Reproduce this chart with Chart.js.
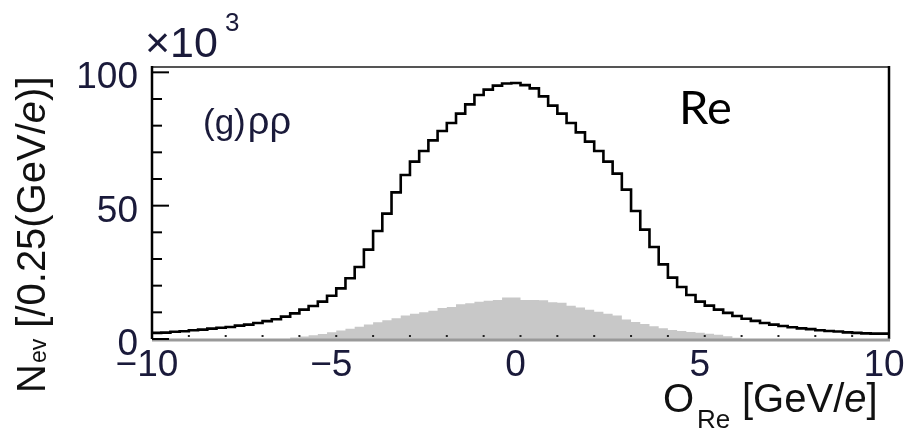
<!DOCTYPE html>
<html>
<head>
<meta charset="utf-8">
<script src="https://cdn.jsdelivr.net/npm/chart.js@4.4.1/dist/chart.umd.min.js"></script>
<style>
  html, body { margin: 0; padding: 0; background: #fff; }
  #wrap { width: 904px; height: 430px; }
</style>
</head>
<body>
<div id="wrap"><canvas id="histChart" width="904" height="430"></canvas></div>
<script>
// histogram binning: 80 bins of 0.25 GeV/e from -10 to 10
const binLow = -10;
const binWidth = 0.25;

// black histogram (x10^3 events per bin), left to right
const totalCounts = [
  2.1, 2.3, 2.4, 2.7, 2.9, 3.3, 3.5, 3.9, 4.2, 4.5,
  5.0, 5.4, 6.0, 6.7, 7.4, 8.4, 9.6, 11.0, 12.4, 14.0,
  16.2, 19.0, 22.8, 27.0, 33.5, 40.5, 47.0, 55.0, 61.5, 66.5,
  70.5, 74.5, 78.0, 81.0, 84.5, 88.0, 91.5, 93.5, 95.0, 95.8,
  96.0, 95.2, 94.0, 91.0, 87.5, 84.5, 81.0, 77.5, 74.0, 70.5,
  66.5, 62.0, 56.0, 48.0, 41.0, 34.5, 28.0, 23.0, 19.5, 16.5,
  14.0, 12.5, 11.0, 9.8, 8.6, 7.6, 6.8, 6.0, 5.4, 4.9,
  4.4, 4.0, 3.7, 3.3, 3.0, 2.8, 2.5, 2.3, 2.1, 2.0
];

// gray filled histogram (x10^3 events per bin)
const bkgCounts = [
  0, 0, 0, 0, 0, 0, 0, 0, 0, 0,
  0, 0, 0, 0, 0, 0, 0.6, 0.9, 1.4, 1.9,
  2.5, 3.2, 3.8, 4.6, 5.4, 6.3, 7.0, 7.8, 8.8, 9.5,
  10.0, 10.6, 11.6, 12.0, 13.0, 13.4, 14.0, 14.3, 14.6, 15.6,
  15.6, 14.6, 14.6, 14.5, 13.8, 13.6, 12.5, 11.8, 11.0, 10.2,
  9.5, 8.8, 7.3, 6.4, 5.6, 4.8, 4.0, 3.4, 3.0, 2.6,
  2.3, 2.0, 1.6, 1.0, 0.5, 0, 0, 0, 0, 0,
  0, 0, 0, 0, 0, 0, 0, 0, 0, 0
];

const xTicks = [-10, -5, 0, 5, 10];
const yTicks = [0, 50, 100];
const yMinorStep = 10;
const xMinorStep = 1;

// step points on bin edges, last bin closed at the upper edge
function toSteps(counts) {
  const pts = counts.map((v, i) => ({ x: binLow + i * binWidth, y: v }));
  pts.push({ x: binLow + counts.length * binWidth, y: counts[counts.length - 1] });
  return pts;
}

const numColor = '#1a1a3a';
const sans = '"Liberation Sans", Arial, sans-serif';

// cadre ROOT : axes, graduations et textes
const rootFrame = {
  id: 'rootFrame',
  afterDatasetsDraw(chart) {
    const ctx = chart.ctx;
    const a = chart.chartArea;
    const xs = chart.scales.x;
    const ys = chart.scales.y;
    ctx.save();

    // frame
    ctx.lineCap = 'butt';
    ctx.strokeStyle = '#555';
    ctx.lineWidth = 2;
    ctx.beginPath(); ctx.moveTo(a.left, a.top); ctx.lineTo(a.right, a.top); ctx.stroke();
    ctx.strokeStyle = '#000';
    ctx.lineWidth = 2.5;
    ctx.beginPath(); ctx.moveTo(a.right, a.top - 1); ctx.lineTo(a.right, a.bottom); ctx.stroke();
    ctx.beginPath(); ctx.moveTo(a.left, a.top - 1); ctx.lineTo(a.left, a.bottom); ctx.stroke();
    ctx.strokeStyle = '#999';
    ctx.lineWidth = 3;
    ctx.beginPath(); ctx.moveTo(a.left, a.bottom + 1); ctx.lineTo(a.right + 1, a.bottom + 1); ctx.stroke();

    // y ticks (inside)
    ctx.strokeStyle = '#000';
    ctx.lineWidth = 2;
    for (let v = 0; v <= 100; v += yMinorStep) {
      const py = ys.getPixelForValue(v);
      const len = yTicks.includes(v) ? 17 : 10;
      ctx.beginPath(); ctx.moveTo(a.left, py); ctx.lineTo(a.left + len, py); ctx.stroke();
    }
    // x ticks: tiny dots
    ctx.fillStyle = '#222';
    for (let v = -9; v <= 9; v += xMinorStep) {
      const px = xs.getPixelForValue(v);
      ctx.fillRect(px - 1, a.bottom - 4, 2, 2);
    }

    // y tick labels
    ctx.fillStyle = numColor;
    ctx.font = '37px ' + sans;
    ctx.textAlign = 'right';
    ctx.textBaseline = 'alphabetic';
    yTicks.forEach(v => {
      ctx.fillText(String(v), a.left - 14, ys.getPixelForValue(v) + 16);
    });
    // x tick labels
    ctx.textAlign = 'center';
    xTicks.forEach(v => {
      const txt = v < 0 ? '\u2212' + Math.abs(v) : String(v);
      ctx.fillText(txt, xs.getPixelForValue(v) - 5, a.bottom + 37);
    });

    // exponent x10^3
    ctx.textAlign = 'left';
    ctx.font = '43px ' + sans;
    ctx.fillText('\u00d710', 145, 57);
    ctx.font = '26px ' + sans;
    ctx.fillText('3', 225, 31);

    // x title
    ctx.fillStyle = '#111';
    ctx.font = '40px ' + sans;
    ctx.fillText('O', 663, 412);
    ctx.font = '26px ' + sans;
    ctx.fillText('Re', 697, 428);
    let x = 742;
    ctx.font = '40px ' + sans;
    ctx.fillText('[GeV/', x, 412);
    x += ctx.measureText('[GeV/').width;
    ctx.font = 'italic 40px ' + sans;
    ctx.fillText('e', x, 412);
    x += ctx.measureText('e').width;
    ctx.font = '40px ' + sans;
    ctx.fillText(']', x, 412);

    // y title, rotated
    ctx.save();
    ctx.translate(45, 393);
    ctx.rotate(-Math.PI / 2);
    let t = 0;
    ctx.font = '40px ' + sans;
    ctx.fillText('N', t, 0);
    t += ctx.measureText('N').width + 1;
    ctx.font = '23px ' + sans;
    ctx.fillText('ev', t, 1);
    t += ctx.measureText('ev').width;
    ctx.font = '40px ' + sans;
    ctx.fillText(' [/0.25(GeV/', t, 0);
    t += ctx.measureText(' [/0.25(GeV/').width;
    ctx.font = 'italic 40px ' + sans;
    ctx.fillText('e', t, 0);
    t += ctx.measureText('e').width;
    ctx.font = '40px ' + sans;
    ctx.fillText(')]', t, 0);
    ctx.restore();

    // in-plot labels
    ctx.fillStyle = numColor;
    ctx.font = '35px ' + sans;
    ctx.fillText('(g)', 203, 134);
    let g = 203 + ctx.measureText('(g)').width + 2;
    ctx.font = '38px ' + sans;
    ctx.fillText('\u03c1\u03c1', g, 134);
    ctx.fillStyle = '#000';
    ctx.font = '47px Lato, "Open Sans", sans-serif';
    ctx.fillText('Re', 679, 124);

    ctx.restore();
  }
};

new Chart(document.getElementById('histChart'), {
  type: 'line',
  data: {
    datasets: [
      {
        data: toSteps(bkgCounts),
        stepped: 'after',
        fill: 'origin',
        backgroundColor: '#c8c8c8',
        borderWidth: 0,
        borderColor: 'rgba(0,0,0,0)',
        pointRadius: 0
      },
      {
        data: toSteps(totalCounts),
        stepped: 'after',
        fill: false,
        borderColor: '#000',
        borderWidth: 2.6,
        pointRadius: 0
      }
    ]
  },
  options: {
    responsive: false,
    animation: false,
    layout: { padding: { left: 152, top: 67, right: 15, bottom: 91 } },
    scales: {
      x: { type: 'linear', min: -10, max: 10, display: false },
      y: { type: 'linear', min: 0, max: 102, display: false }
    },
    plugins: {
      legend: { display: false },
      tooltip: { enabled: false }
    }
  },
  plugins: [rootFrame]
});
</script>
</body>
</html>
